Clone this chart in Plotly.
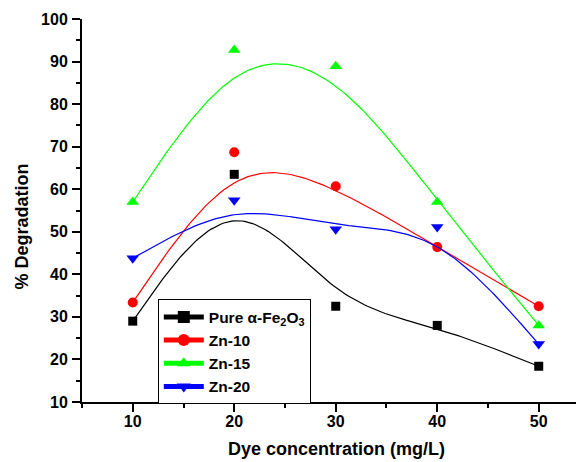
import numpy as np
import plotly.graph_objects as go

conc = [10, 20, 30, 40, 50]
pure = [29.0, 63.5, 32.5, 28.0, 18.4]
zn10 = [33.4, 68.7, 60.7, 46.4, 32.5]
zn15 = [57.0, 92.7, 88.9, 57.0, 28.0]
zn20 = [43.8, 57.4, 50.6, 51.1, 23.6]

names = ["Pure α-Fe<sub>2</sub>O<sub>3</sub>", "Zn-10", "Zn-15", "Zn-20"]
colors = ["#000000", "#FF0000", "#00FF00", "#0000FF"]
symbols = ["square", "circle", "triangle-up", "triangle-down"]
sizes = [9, 10, 11, 11]

FAM = "Liberation Sans, Arial, sans-serif"


def bspline(px, py, num=40):
    """Uniform cubic B-spline with reflected end control points (curve passes ends)."""
    def ext(p):
        p = list(map(float, p))
        return np.array([2 * p[0] - p[1]] + p + [2 * p[-1] - p[-2]])
    qx, qy = ext(px), ext(py)
    u = np.linspace(0, 1, num)
    b0 = (1 - u) ** 3 / 6
    b1 = (3 * u ** 3 - 6 * u ** 2 + 4) / 6
    b2 = (-3 * u ** 3 + 3 * u ** 2 + 3 * u + 1) / 6
    b3 = u ** 3 / 6
    xs, ys = [], []
    for i in range(len(px) - 1):
        xs.append(b0 * qx[i] + b1 * qx[i + 1] + b2 * qx[i + 2] + b3 * qx[i + 3])
        ys.append(b0 * qy[i] + b1 * qy[i + 1] + b2 * qy[i + 2] + b3 * qy[i + 3])
    return np.concatenate(xs), np.concatenate(ys)


fig = go.Figure()
series = [pure, zn10, zn15, zn20]
for s, name, c, sym, sz in zip(series, names, colors, symbols, sizes):
    cx, cy = bspline(conc, s)
    fig.add_trace(go.Scatter(x=cx, y=cy, mode="lines", line=dict(color=c, width=1.2),
                             showlegend=False, hoverinfo="skip"))
    fig.add_trace(go.Scatter(x=conc, y=s, mode="markers",
                             marker=dict(color=c, symbol=sym, size=sz, line=dict(width=0)),
                             showlegend=False))
    fig.add_trace(go.Scatter(x=[None], y=[None], mode="lines+markers", name=name,
                             line=dict(color=c, width=1.2),
                             marker=dict(color=c, symbol=sym, size=sz, line=dict(width=0))))

tickfont = dict(family=FAM, size=16, color="#000000", weight="bold")
titlefont = dict(family=FAM, size=18, color="#000000", weight="bold")

axis_common = dict(
    showline=True, linecolor="#000000", linewidth=2,
    ticks="outside", ticklen=8, tickwidth=2, tickcolor="#000000",
    showgrid=False, zeroline=False, automargin=False, tickfont=tickfont,
)

fig.update_layout(
    width=576, height=454,
    margin=dict(l=74, r=0, t=11, b=60),
    paper_bgcolor="white", plot_bgcolor="white",
    font=tickfont,
    showlegend=True,
    legend=dict(x=0.151, y=0.268, xanchor="left", yanchor="top",
                bordercolor="#000000", borderwidth=1, bgcolor="white",
                font=dict(family=FAM, size=15.5, color="#000000", weight="bold"),
                tracegroupgap=0, itemsizing="constant", itemwidth=40),
    xaxis=dict(range=[5, 54.46], tickmode="linear", tick0=10, dtick=10,
               minor=dict(tickmode="linear", tick0=5, dtick=5, ticks="outside", ticklen=4,
                          tickwidth=1.5, tickcolor="#000000"),
               ticklabelstandoff=-4,
               **axis_common),
    yaxis=dict(range=[10, 100], tickmode="linear", tick0=10, dtick=10,
               minor=dict(tickmode="linear", tick0=5, dtick=5, ticks="outside", ticklen=4,
                          tickwidth=1.5, tickcolor="#000000"),
               ticklabelstandoff=1,
               **axis_common),
    annotations=[
        dict(text="% Degradation", textangle=-90, font=titlefont,
             xref="paper", yref="paper", x=-0.1195, y=0.458,
             xanchor="center", yanchor="middle", showarrow=False),
        dict(text="Dye concentration (mg/L)", font=titlefont,
             xref="paper", yref="paper", x=0.507, y=-0.1227,
             xanchor="center", yanchor="middle", showarrow=False),
    ],
)

fig.write_html("out.html")
